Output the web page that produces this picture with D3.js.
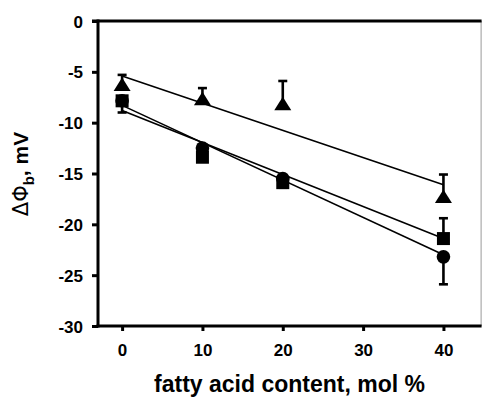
<!DOCTYPE html>
<html>
<head>
<meta charset="utf-8">
<script src="https://cdn.jsdelivr.net/npm/d3@7"></script>
<style>
  html, body { margin: 0; padding: 0; background: #fff; }
  svg { display: block; }
  text { font-family: "Liberation Sans", Arial, sans-serif; font-weight: bold; fill: #000; }
</style>
</head>
<body>
<svg id="chart" width="482" height="398"></svg>
<script>
// ---- data ----
const xValues = [0, 10, 20, 40];

const triangleValues = [-6.3, -7.7, -8.2, -17.3];
const triangleErrUp  = [1.0, 1.1, 2.3, 2.2];

const squareValues   = [-7.85, -13.4, -15.9, -21.4];
const squareErrUp    = [0.3, 0.3, 0.3, 2.0];

const circleValues   = [-7.85, -12.5, -15.5, -23.2];
const circleErrDown  = [1.15, 0.3, 0.9, 2.7];

// fitted regression lines: value at x = 0 and x = 40
const fitX           = [0, 40];
const triangleFit    = [-5.4, -16.1];
const squareFit      = [-8.8, -21.4];
const circleFit      = [-8.3, -23.0];

const xTicks = [0, 10, 20, 30, 40];
const yTicks = [0, -5, -10, -15, -20, -25, -30];

// ---- layout ----
const svg = d3.select("#chart");
const x = d3.scaleLinear().domain([-3, 44.75]).range([98, 481.6]);
const y = d3.scaleLinear().domain([-30, 0]).range([326, 21]);

// frame: right thin border
svg.append("line")
  .attr("x1", x(44.75) - 0.5).attr("x2", x(44.75) - 0.5)
  .attr("y1", y(0)).attr("y2", y(-30))
  .attr("stroke", "#999").attr("stroke-width", 1);

// fit lines
const lineGen = d3.line().x((d, i) => x(fitX[i])).y(d => y(d));
[triangleFit, squareFit, circleFit].forEach(f => {
  svg.append("path").datum(f)
    .attr("d", lineGen)
    .attr("fill", "none").attr("stroke", "#000").attr("stroke-width", 1.6);
});

// error bars
function errorBars(vals, errs, dir) {
  const g = svg.append("g");
  vals.forEach((v, i) => {
    const end = v + dir * errs[i];
    g.append("line")
      .attr("x1", x(xValues[i])).attr("x2", x(xValues[i]))
      .attr("y1", y(v)).attr("y2", y(end))
      .attr("stroke", "#000").attr("stroke-width", 2.6);
    g.append("line")
      .attr("x1", x(xValues[i]) - 4.5).attr("x2", x(xValues[i]) + 4.5)
      .attr("y1", y(end)).attr("y2", y(end))
      .attr("stroke", "#000").attr("stroke-width", 2.6);
  });
}
errorBars(triangleValues, triangleErrUp, 1);
errorBars(circleValues, circleErrDown, -1);
errorBars(squareValues, squareErrUp, 1);

// markers
svg.append("g").selectAll("circle").data(circleValues).join("circle")
  .attr("cx", (d, i) => x(xValues[i])).attr("cy", d => y(d))
  .attr("r", 6.8).attr("fill", "#000");

svg.append("g").selectAll("rect").data(squareValues).join("rect")
  .attr("x", (d, i) => x(xValues[i]) - 6.5).attr("y", d => y(d) - 6.5)
  .attr("width", 13).attr("height", 13).attr("fill", "#000");

svg.append("g").selectAll("path").data(triangleValues).join("path")
  .attr("d", (d, i) => {
    const cx = x(xValues[i]), cy = y(d);
    return `M${cx},${cy - 7.5}L${cx + 8.5},${cy + 6}L${cx - 8.5},${cy + 6}Z`;
  })
  .attr("fill", "#000");

// axes
const yAxis = svg.append("g").attr("transform", `translate(${x(-3)},0)`)
  .call(d3.axisLeft(y).tickValues(yTicks).tickSize(6).tickPadding(9).tickFormat(d => String(d)));
const xAxis = svg.append("g").attr("transform", `translate(0,${y(-30)})`)
  .call(d3.axisBottom(x).tickValues(xTicks).tickSize(5).tickPadding(13).tickFormat(d => String(d)));
[yAxis, xAxis].forEach(a => {
  a.select(".domain").remove();
  a.selectAll(".tick line").attr("stroke", "#000").attr("stroke-width", 3);
  a.selectAll(".tick text").style("font-size", "17px").attr("fill", "#000")
    .style("font-family", "'Liberation Sans', Arial, sans-serif").style("font-weight", "bold");
});
yAxis.selectAll(".tick text").attr("dy", "0.36em");

// axis lines (left, bottom, top)
svg.append("line").attr("x1", x(-3)).attr("x2", x(-3)).attr("y1", y(0) - 1.5).attr("y2", y(-30) + 1.5)
  .attr("stroke", "#000").attr("stroke-width", 3);
svg.append("line").attr("x1", x(-3) - 1.5).attr("x2", x(44.75)).attr("y1", y(-30)).attr("y2", y(-30))
  .attr("stroke", "#000").attr("stroke-width", 3);
svg.append("line").attr("x1", x(-3) - 6).attr("x2", x(44.75)).attr("y1", y(0)).attr("y2", y(0))
  .attr("stroke", "#000").attr("stroke-width", 3);

// axis titles
svg.append("text")
  .attr("x", 289.5).attr("y", 392)
  .attr("text-anchor", "middle")
  .style("font-size", "23px")
  .text("fatty acid content, mol %");

const yt = svg.append("text")
  .attr("transform", "translate(28,174) rotate(-90)")
  .attr("text-anchor", "middle")
  .style("font-size", "21px");
yt.append("tspan").style("font-weight", "normal").style("font-family", "'DejaVu Sans', sans-serif").text("ΔΦ");
yt.append("tspan").attr("dy", 6).style("font-size", "15px").text("b");
yt.append("tspan").attr("dy", -6).text(", mV");
</script>
</body>
</html>
